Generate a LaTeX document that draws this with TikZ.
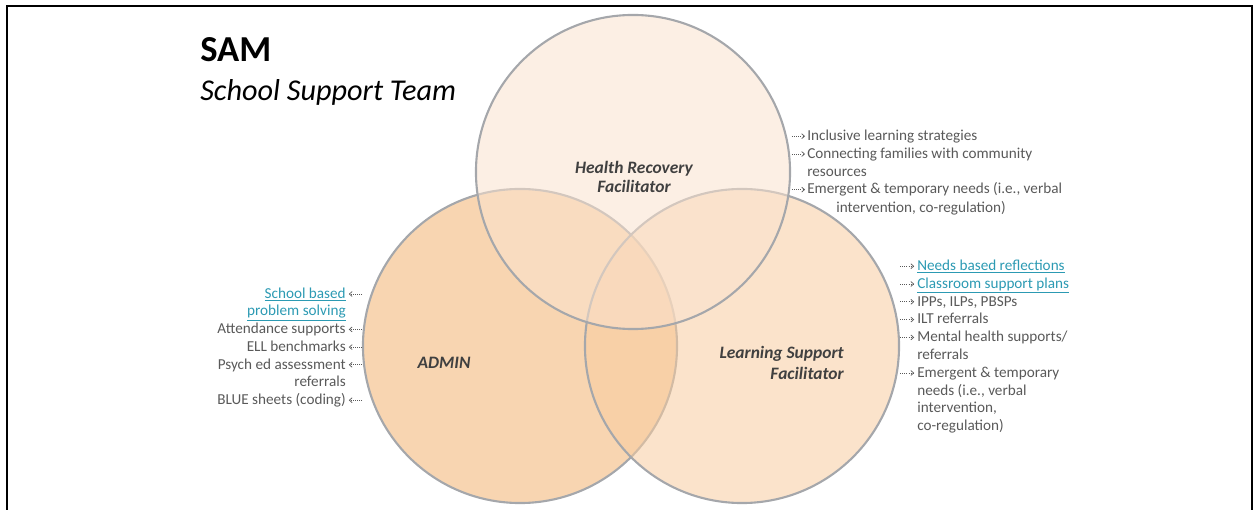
\documentclass[tikz,border=0pt]{standalone}
\usepackage{fontspec}
\setmainfont{Carlito}
\usetikzlibrary{arrows.meta}

\definecolor{admfill}{HTML}{F8D5B1}
\definecolor{lsffill}{HTML}{F8CCA0}
\definecolor{hrffill}{HTML}{FAE2CE}
\definecolor{ringgray}{HTML}{A5A7AB}
\definecolor{txtgray}{HTML}{595959}
\definecolor{labgray}{HTML}{404040}
\definecolor{linkteal}{HTML}{2C9AB3}

\newcommand{\lnk}[1]{\textcolor{linkteal}{\underline{#1}}}

\begin{document}
\begin{tikzpicture}[
    x=0.025cm, y=-0.025cm,
    venn/.style={circle, minimum size=7.85cm, inner sep=0pt, line width=1.5pt, draw=ringgray},
    tag/.style={inner sep=0pt, font=\fontsize{12.4}{14.5}\selectfont\bfseries\itshape, text=labgray},
    item/.style={inner sep=0pt, text height=7.7pt, text depth=1.6pt, font=\fontsize{10.8}{13}\selectfont, text=txtgray},
    bul/.style={densely dotted, line width=.5pt, draw=txtgray, -{Straight Barb[length=2pt, width=3.5pt]}}
]
\useasboundingbox (0,0) rectangle (1259,510);

% frame, open at the bottom
\draw[line width=1.9pt] (7,510) -- (7,6) -- (1252,6) -- (1252,510);

% title
\node[anchor=base west, inner sep=0pt, font=\fontsize{26}{30}\selectfont\bfseries] (sam) at (200,62) {SAM};
\node[anchor=base west, inner sep=0pt, font=\fontsize{21.5}{25}\selectfont\itshape] (team) at (200,101) {School Support Team};

% the three circles, later ones lie over the earlier ones
\node[venn, fill=admfill] (admin) at (520,346) {};
\node[venn, fill=lsffill, fill opacity=.55] (lsf) at (742,346) {};
\node[venn, fill=hrffill, fill opacity=.55] (hrf) at (633,172) {};

\node[tag, anchor=base] (hrf1) at (634,174) {Health Recovery};
\node[tag, anchor=base] (hrf2) at (634,193) {Facilitator};
\node[tag, anchor=base] (admin1) at (444,369) {ADMIN};
\node[tag, anchor=base east] (lsf1) at (844,359) {Learning Support};
\node[tag, anchor=base east] (lsf2) at (844,380) {Facilitator};

% health recovery list
\foreach \t [count=\i] in {Inclusive learning strategies, Connecting families with community, resources, {Emergent \& temporary needs (i.e., verbal}}
  \node[item, anchor=base west] (h\i) at (807,{122.7+17.8*\i}) {\t};
\node[item, anchor=base west] (h5) at (836,212.5) {intervention, co-regulation)};
\foreach \i in {1,2,4}
  \draw[bul] ([xshift=-10.7pt]h\i.west) -- ([xshift=-1.4pt]h\i.west);

% learning support list
\foreach \t [count=\i] in {{\lnk{Needs based reflections}}, {\lnk{Classroom support plans}}, {IPPs, ILPs, PBSPs}, ILT referrals, Mental health supports/, referrals, Emergent \& temporary, {needs (i.e., verbal}, {intervention,}, co-regulation)}
  \node[item, anchor=base west] (s\i) at (917,{252.7+17.8*\i}) {\t};
\foreach \i in {1,...,5,7}
  \draw[bul] ([xshift=-12pt]s\i.west) -- ([xshift=-2pt]s\i.west);

% admin list
\foreach \t [count=\i] in {{\lnk{School based}}, {\lnk{problem solving}}, Attendance supports, ELL benchmarks, Psych ed assessment, referrals, {BLUE sheets (coding)}}
  \node[item, anchor=base east] (a\i) at (346,{280.6+17.7*\i}) {\t};
\foreach \i in {1,3,4,5,7}
  \draw[bul] ([xshift=11.5pt]a\i.east) -- ([xshift=2pt]a\i.east);
\end{tikzpicture}
\end{document}
